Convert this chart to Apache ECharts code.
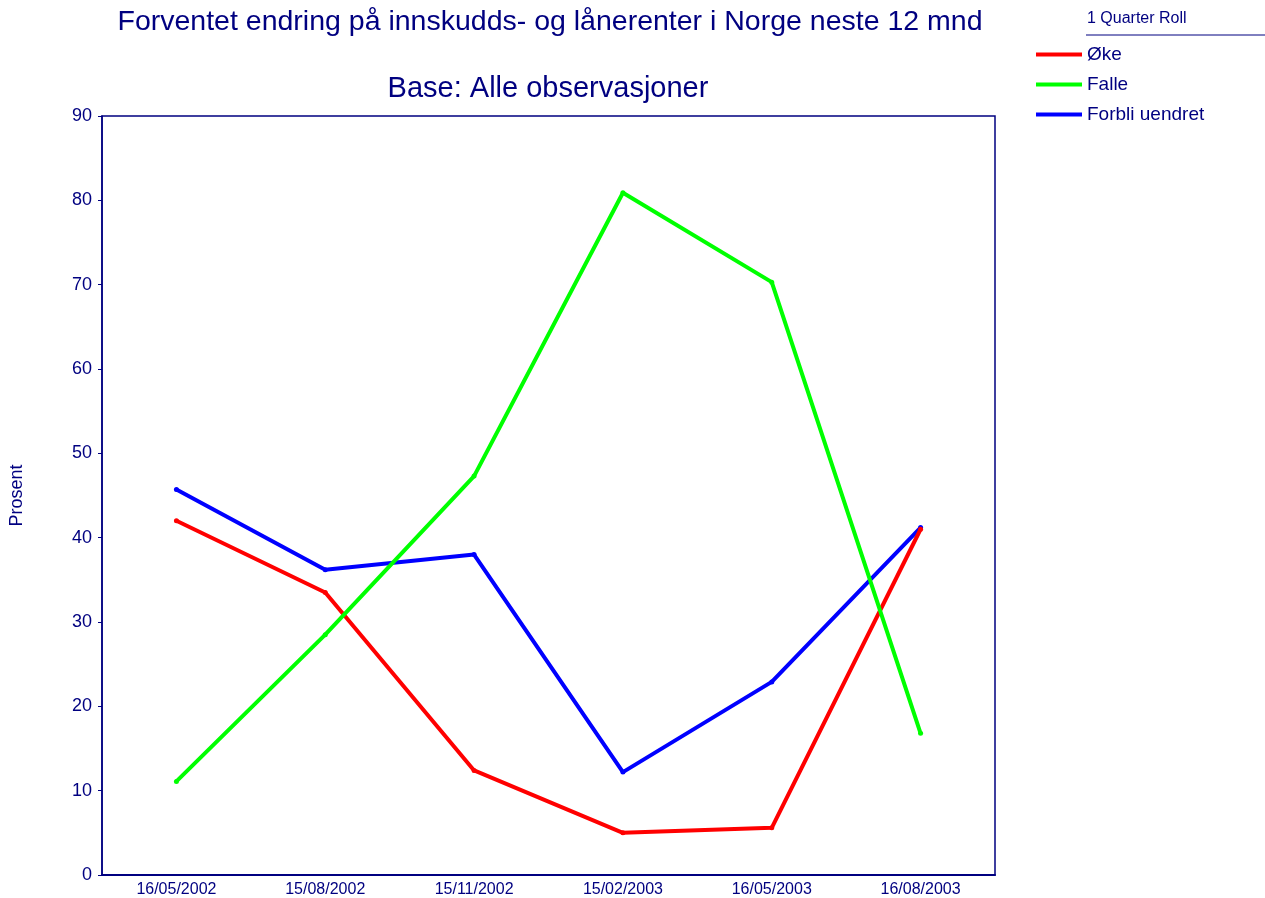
<!DOCTYPE html>
<html>
<head>
<meta charset="utf-8">
<script src="https://cdn.jsdelivr.net/npm/echarts@6/dist/echarts.min.js"></script>
<style>
html, body { margin: 0; padding: 0; background: #fff; }
#chart { width: 1265px; height: 898px; }
</style>
</head>
<body>
<div id="chart"></div>
<script>
// data
var dates = ['16/05/2002', '15/08/2002', '15/11/2002', '15/02/2003', '16/05/2003', '16/08/2003'];
var oke = [42.0, 33.5, 12.4, 5.0, 5.6, 41.0];
var falle = [11.1, 28.5, 47.3, 80.9, 70.3, 16.8];
var uendret = [45.7, 36.2, 38.0, 12.2, 22.9, 41.2];

var navy = '#000080';
var font = 'Liberation Sans, Arial, sans-serif';

var chart = echarts.init(document.getElementById('chart'));

function line(name, data, color, z) {
    return {
        name: name,
        type: 'line',
        data: data,
        z: z,
        symbol: 'circle',
        symbolSize: 5,
        lineStyle: { color: color, width: 4 },
        itemStyle: { color: color },
        animation: false
    };
}

chart.setOption({
    textStyle: { fontFamily: font },
    title: [
        {
            text: 'Forventet endring på innskudds- og lånerenter i Norge neste 12 mnd',
            left: 545, top: 3, textAlign: 'center',
            textStyle: { color: navy, fontSize: 28.5, fontWeight: 'normal', fontFamily: font }
        },
        {
            text: 'Base: Alle observasjoner',
            left: 543, top: 69, textAlign: 'center',
            textStyle: { color: navy, fontSize: 29, fontWeight: 'normal', fontFamily: font }
        }
    ],
    legend: {
        orient: 'vertical',
        left: 1031, top: 40,
        itemWidth: 46, itemHeight: 4,
        itemGap: 11,
        icon: 'rect',
        textStyle: { color: navy, fontSize: 19, fontFamily: font },
        data: ['Øke', 'Falle', 'Forbli uendret']
    },
    graphic: [
        {
            type: 'text', left: 1087, top: 11,
            style: { text: '1 Quarter Roll', fill: navy, font: '16px ' + font }
        },
        {
            type: 'line',
            shape: { x1: 1086, y1: 35, x2: 1265, y2: 35 },
            style: { stroke: navy, lineWidth: 1 }
        }
    ],
    grid: {
        left: 100, right: 270, top: 116, bottom: 22,
        show: true, borderColor: navy, borderWidth: 1.5, backgroundColor: '#fff'
    },
    xAxis: {
        type: 'category',
        data: dates,
        boundaryGap: true,
        axisLine: { lineStyle: { color: navy, width: 2 } },
        axisTick: { alignWithLabel: true, length: 4, lineStyle: { color: navy } },
        axisLabel: { color: navy, fontSize: 16, margin: 7, fontFamily: font },
        splitLine: { show: false }
    },
    yAxis: {
        type: 'value',
        min: 0, max: 90, interval: 10,
        name: 'Prosent',
        nameLocation: 'middle',
        nameGap: 76,
        nameTextStyle: { color: navy, fontSize: 18, fontFamily: font },
        axisLine: { show: true, lineStyle: { color: navy, width: 1.5 } },
        axisTick: { show: true, length: 4, lineStyle: { color: navy } },
        axisLabel: { color: navy, fontSize: 18, margin: 10, fontFamily: font },
        splitLine: { show: false }
    },
    series: [
        line('Forbli uendret', uendret, '#0000ff', 2),
        line('Øke', oke, '#ff0000', 3),
        line('Falle', falle, '#00ff00', 4)
    ]
});
</script>
</body>
</html>
